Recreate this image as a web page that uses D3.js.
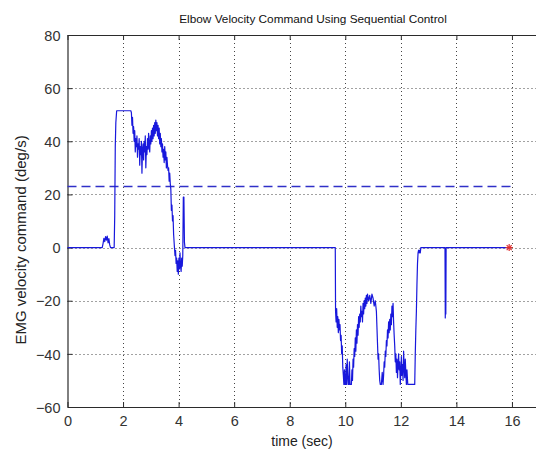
<!DOCTYPE html>
<html>
<head>
<meta charset="utf-8">
<script src="https://cdn.jsdelivr.net/npm/d3@7"></script>
<style>
  html, body { margin: 0; padding: 0; background: #fff; }
  svg { display: block; font-family: "Liberation Sans", Arial, sans-serif; }
</style>
</head>
<body>
<svg id="chart" width="536" height="454"></svg>
<script>
// Elbow velocity command trace (time in seconds, command in deg/s)
const timeSec = [
  0, 1.25, 1.28, 1.31, 1.34, 1.37, 1.40, 1.43, 1.46, 1.49, 1.52, 1.55, 1.68,
  1.70, 1.72, 1.74, 1.77, 2.28, 2.30, 2.32, 2.34, 2.36, 2.38, 2.40, 2.42, 2.44,
  2.46, 2.48, 2.50, 2.52, 2.54, 2.56, 2.58, 2.60, 2.62, 2.64, 2.66, 2.68, 2.70,
  2.72, 2.74, 2.76, 2.78, 2.80, 2.82, 2.84, 2.86, 2.88, 2.90, 2.92, 2.94, 2.96,
  2.98, 3.00, 3.02, 3.04, 3.06, 3.08, 3.10, 3.12, 3.14, 3.16, 3.18, 3.20, 3.22,
  3.24, 3.26, 3.28, 3.30, 3.32, 3.34, 3.36, 3.38, 3.40, 3.42, 3.44, 3.46, 3.48,
  3.50, 3.52, 3.54, 3.56, 3.58, 3.60, 3.62, 3.64, 3.66, 3.68, 3.70, 3.72, 3.74,
  3.76, 3.78, 3.80, 3.82, 3.85, 3.87, 3.89, 3.91, 3.93, 3.95, 3.97, 3.99, 4.01,
  4.03, 4.05, 4.07, 4.09, 4.11, 4.13, 4.15, 4.17, 4.19, 4.21, 4.23,
  9.64, 9.65, 9.67, 9.69, 9.71, 9.73, 9.75, 9.77, 9.79, 9.81, 9.83, 9.85, 9.87,
  9.89, 9.91, 9.93, 9.95, 9.97, 9.99, 10.01, 10.03, 10.05, 10.07, 10.09, 10.11,
  10.13, 10.15, 10.17, 10.19, 10.22, 10.24, 10.26, 10.28, 10.30, 10.32, 10.34,
  10.36, 10.38, 10.40, 10.42, 10.44, 10.46, 10.48, 10.50, 10.52, 10.54, 10.56,
  10.58, 10.60, 10.62, 10.64, 10.66, 10.68, 10.70, 10.72, 10.74, 10.76, 10.78,
  10.80, 10.84, 10.88, 10.92, 10.96, 11.00, 11.04, 11.08, 11.12, 11.14, 11.16,
  11.18, 11.20, 11.22, 11.24, 11.26, 11.30, 11.33, 11.36, 11.38, 11.40, 11.42,
  11.44, 11.46, 11.48, 11.50, 11.52, 11.54, 11.56, 11.58, 11.60, 11.62, 11.64,
  11.66, 11.68, 11.70, 11.72, 11.74, 11.76, 11.78, 11.80, 11.82, 11.84, 11.86,
  11.88, 11.90, 11.92, 11.94, 11.96, 11.98, 12.00, 12.02, 12.04, 12.06, 12.08,
  12.10, 12.12, 12.14, 12.16, 12.18, 12.20, 12.22, 12.25, 12.30, 12.35, 12.40,
  12.45, 12.50, 12.52, 12.54, 12.56, 12.58, 12.60, 12.62, 12.64, 12.66, 12.68,
  12.70, 12.72, 12.75, 12.78, 12.80,
  13.57, 13.59, 13.60, 13.61, 13.62, 13.63, 13.65, 15.9
];
const velocityCmd = [
  0, 0, 1.5, 3.5, 2.2, 4.1, 2.8, 4.3, 1.8, 3.4, 1.0, 0, 0,
  12, 38, 47, 51.5, 51.5, 50.8, 46, 49, 43, 45.5, 40, 44, 36,
  41, 38, 42, 34, 39, 37, 41, 31, 38, 35, 40, 28, 37,
  39, 33, 40, 36, 42, 30, 38, 35, 41, 37, 43, 38, 36,
  42, 39, 44, 40, 45, 41, 46, 42, 47, 43, 48, 44, 47,
  42, 46, 41, 45, 39, 43, 38, 41, 36, 39, 34, 37, 32,
  38, 33, 36, 30, 34, 31, 29, 30, 25, 28, 24, 22, 14,
  16, 10, 12, 5, 0, -3, -1, -6, -4, -9, -5, -10, -4,
  -8, -2, -7, -9, -4, -7, -3, 19, 19, 2, 0,
  0, -24, -28, -23, -30, -26, -32, -27, -31, -29, -35, -33, -40,
  -37, -45, -48, -51.5, -46, -51.5, -51.5, -44, -51.5, -42, -48, -51.5,
  -51.5, -43, -51.5, -51.5, -51.5, -46, -50, -42, -45, -38, -41,
  -34, -39, -31, -36, -29, -33, -26, -30, -25, -28, -22,
  -26, -24, -28, -21, -25, -20, -23, -19, -22, -18, -21,
  -17.5, -20, -18, -21, -17.5, -19, -22, -20, -24, -30, -36,
  -42, -40, -46, -50, -51.5, -51.5, -47, -51.5, -48, -43, -45,
  -39, -41, -35, -37, -31, -34, -28, -32, -27, -31, -25,
  -29, -22, -26, -21, -28, -33, -37, -43, -40, -47, -42,
  -49, -44, -40, -46, -43, -51.5, -47, -41, -48, -44, -50,
  -39, -45, -49, -42, -47, -51.5, -46, -51.5, -51.5, -51.5, -51.5,
  -51.5, -51.5, -40, -31, -24, -14, -6, -2, -1, -2, -1,
  -2, 0, 0, 0, 0,
  0, 0, -26.5, -18, -25, 0, 0, 0
];
// Threshold level drawn as a dashed line
const thresholdLevel = 23;
const thresholdSpan = [0, 16];
// Final sample marker
const endMarker = { t: 15.9, v: 0 };

const xTicks = [0, 2, 4, 6, 8, 10, 12, 14, 16];
const yTicks = [-60, -40, -20, 0, 20, 40, 60, 80];
const titleText = "Elbow Velocity Command Using Sequential Control";
const xLabelText = "time (sec)";
const yLabelText = "EMG velocity command (deg/s)";

const svg = d3.select("#chart");
const x = d3.scaleLinear().domain([0, 18]).range([67.5, 567.5]);
const y = d3.scaleLinear().domain([-60, 80]).range([407, 35]);

const ink = "#2b2b2b";

// grid
const grid = svg.append("g").attr("stroke", "#444").attr("stroke-width", 1)
  .attr("stroke-dasharray", "1,3");
grid.selectAll(".gx").data(xTicks.filter(d => d > 0)).join("line")
  .attr("x1", d => Math.round(x(d)) + 0.5).attr("x2", d => Math.round(x(d)) + 0.5)
  .attr("y1", y(80)).attr("y2", y(-60));
grid.selectAll(".gy").data(yTicks.filter(d => d > -60 && d < 80)).join("line")
  .attr("x1", x(0)).attr("x2", x(18))
  .attr("y1", d => Math.round(y(d)) + 0.5).attr("y2", d => Math.round(y(d)) + 0.5);

// axes with inward ticks
const xAxis = svg.append("g").attr("transform", `translate(0,${y(-60)})`)
  .call(d3.axisBottom(x).tickValues(xTicks).tickSizeInner(-5).tickSizeOuter(0).tickPadding(9));
const xAxisTop = svg.append("g").attr("transform", `translate(0,${y(80)})`)
  .call(d3.axisTop(x).tickValues(xTicks).tickSizeInner(-5).tickSizeOuter(0).tickFormat(""));
const yAxis = svg.append("g").attr("transform", `translate(${x(0)},0)`)
  .call(d3.axisLeft(y).tickValues(yTicks).tickSizeInner(-5).tickSizeOuter(0).tickPadding(7));
[xAxis, xAxisTop, yAxis].forEach(g => {
  g.select(".domain").attr("stroke", ink).attr("stroke-width", 1.2);
  g.selectAll(".tick line").attr("stroke", ink);
  g.selectAll(".tick text").attr("fill", "#333").attr("font-size", 14.5)
    .attr("font-family", "Liberation Sans, Arial, sans-serif");
});
yAxis.selectAll(".tick text").attr("dy", "0.36em");

// threshold dashed line
svg.append("line")
  .attr("x1", x(thresholdSpan[0])).attr("x2", x(thresholdSpan[1]))
  .attr("y1", y(thresholdLevel)).attr("y2", y(thresholdLevel))
  .attr("stroke", "#3030c8").attr("stroke-width", 1.4)
  .attr("stroke-dasharray", "9,5");

// velocity trace
const line = d3.line().x((d, i) => x(timeSec[i])).y(d => y(d));
svg.append("path").datum(velocityCmd)
  .attr("d", line)
  .attr("fill", "none").attr("stroke", "#1818dc").attr("stroke-width", 1.2)
  .attr("stroke-linejoin", "round");

// end marker (asterisk)
const mx = x(endMarker.t), my = y(endMarker.v), r = 3.5;
const star = svg.append("g").attr("stroke", "#e03030").attr("stroke-width", 1.2);
[[0, r], [r, 0], [r * 0.72, r * 0.72], [r * 0.72, -r * 0.72]].forEach(([dx, dy]) => {
  star.append("line").attr("x1", mx - dx).attr("y1", my - dy).attr("x2", mx + dx).attr("y2", my + dy);
});

// text
svg.append("text").attr("x", 313).attr("y", 23).attr("text-anchor", "middle")
  .attr("font-size", 11.8).attr("fill", "#111").text(titleText);
svg.append("text").attr("x", 302).attr("y", 446).attr("text-anchor", "middle")
  .attr("font-size", 14).attr("fill", "#222").text(xLabelText);
svg.append("text").attr("transform", "translate(26,240) rotate(-90)")
  .attr("text-anchor", "middle").attr("font-size", 15).attr("fill", "#222").text(yLabelText);
</script>
</body>
</html>
